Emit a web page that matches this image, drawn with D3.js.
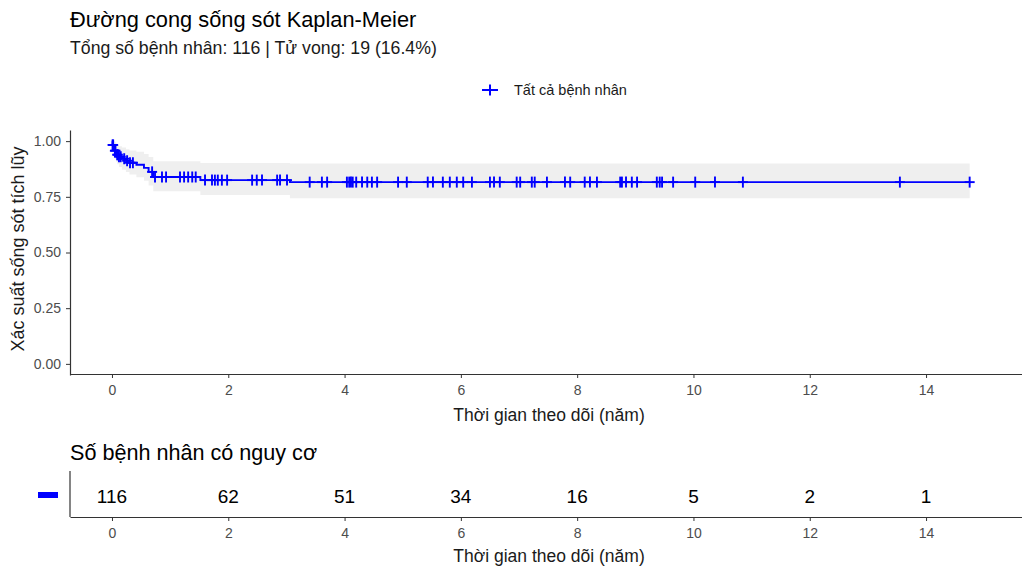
<!DOCTYPE html>
<html>
<head>
<meta charset="utf-8">
<script src="https://cdn.jsdelivr.net/npm/d3@7"></script>
<style>
  body { margin: 0; background: #fff; }
  svg { font-family: "Liberation Sans", Arial, sans-serif; }
</style>
</head>
<body>
<div id="plot"></div>
<script>
"use strict";

// KM step estimates
const stepTimes = [0, 0.01, 0.03, 0.05, 0.07, 0.09, 0.12, 0.17, 0.24, 0.30, 0.42, 0.55, 0.63, 0.71, 1.52, 3.06, 14.75];
const stepSurv  = [1, 0.983, 0.966, 0.957, 0.948, 0.939, 0.930, 0.921, 0.912, 0.903, 0.894, 0.880, 0.862, 0.839, 0.825, 0.816, 0.816];
const stepLower = [1, 0.958, 0.934, 0.920, 0.908, 0.896, 0.884, 0.872, 0.861, 0.850, 0.838, 0.822, 0.801, 0.775, 0.758, 0.744, 0.744];
const stepUpper = [1, 1.000, 0.999, 0.995, 0.989, 0.983, 0.977, 0.971, 0.964, 0.958, 0.952, 0.942, 0.929, 0.910, 0.902, 0.900, 0.900];

// censoring times (years)
const censorTimes = [0.01, 0.02, 0.05, 0.06, 0.09, 0.10, 0.12, 0.15, 0.21, 0.26, 0.31, 0.36,
  0.69, 0.74, 0.86, 0.93, 1.17, 1.24, 1.31, 1.38, 1.44, 1.60, 1.72, 1.77, 1.82, 1.89, 1.98,
  2.41, 2.49, 2.58, 2.84, 2.89, 3.01, 3.40, 3.61, 3.70,
  4.04, 4.08, 4.11, 4.14, 4.20, 4.30, 4.39, 4.47, 4.56, 4.92, 5.07, 5.43, 5.52,
  5.69, 5.81, 5.93, 6.04, 6.19, 6.50, 6.57, 6.67, 6.96, 7.02, 7.22, 7.27, 7.48, 7.79, 7.88,
  8.13, 8.22, 8.34, 8.74, 8.77, 8.84, 8.94, 9.03, 9.37, 9.42, 9.46, 9.65,
  10.03, 10.37, 10.85, 13.55, 14.75];

const riskTimes = [0, 2, 4, 6, 8, 10, 12, 14];
const riskCounts = [116, 62, 51, 34, 16, 5, 2, 1];
const yTicks = [0, 0.25, 0.5, 0.75, 1];

const W = 1022, H = 567;
const lineColor = "#0000FF";

const svg = d3.select("#plot").append("svg")
    .attr("width", W)
    .attr("height", H);

const x = d3.scaleLinear().domain([-0.722, 15.65]).range([70, 1022]);
const y = d3.scaleLinear().domain([-0.05, 1.05]).range([375, 130]);

// step lookup for censor marks
function survAt(t) {
    let i = d3.bisectRight(stepTimes, t) - 1;
    return stepSurv[Math.max(0, i)];
}

// titles
svg.append("text").attr("x", 70).attr("y", 27)
    .style("font-size", "21.8px").attr("fill", "#000")
    .text("Đường cong sống sót Kaplan-Meier");
svg.append("text").attr("x", 70).attr("y", 54)
    .style("font-size", "17.7px").attr("fill", "#1a1a1a")
    .text("Tổng số bệnh nhân: 116 | Tử vong: 19 (16.4%)");

// legend
const leg = svg.append("g").attr("transform", "translate(490,90)");
leg.append("line").attr("x1", -8).attr("x2", 8).attr("stroke", lineColor).attr("stroke-width", 2);
leg.append("line").attr("y1", -5.5).attr("y2", 5.5).attr("stroke", lineColor).attr("stroke-width", 2);
leg.append("text").attr("x", 24).attr("y", 5)
    .style("font-size", "14.5px").attr("fill", "#1a1a1a")
    .text("Tất cả bệnh nhân");

// confidence band
const band = stepTimes.map((t, i) => ({t: t, lo: stepLower[i], hi: stepUpper[i]}));
svg.append("path")
    .datum(band)
    .attr("fill", "#efefef")
    .attr("d", d3.area()
        .curve(d3.curveStepAfter)
        .x(d => x(d.t))
        .y0(d => y(d.lo))
        .y1(d => y(d.hi)));

// survival curve
const curve = stepTimes.map((t, i) => ({t: t, s: stepSurv[i]}));
svg.append("path")
    .datum(curve)
    .attr("fill", "none")
    .attr("stroke", lineColor)
    .attr("stroke-width", 1.9)
    .attr("d", d3.line().curve(d3.curveStepAfter).x(d => x(d.t)).y(d => y(d.s)));

// censor marks
const marks = svg.append("g");
censorTimes.forEach(t => {
    const cx = x(t), cy = y(survAt(t));
    marks.append("line").attr("x1", cx - 5).attr("x2", cx + 5).attr("y1", cy).attr("y2", cy)
        .attr("stroke", lineColor).attr("stroke-width", 1.9);
    marks.append("line").attr("x1", cx).attr("x2", cx).attr("y1", cy - 5.5).attr("y2", cy + 5.5)
        .attr("stroke", lineColor).attr("stroke-width", 1.9);
});

// axes of the main panel
function styleAxis(g) {
    g.selectAll(".domain").attr("stroke", "#333").attr("stroke-width", 1.2);
    g.selectAll(".tick line").attr("stroke", "#333");
    g.selectAll(".tick text").attr("fill", "#4d4d4d")
        .style("font-size", "14px").style("font-family", "'Liberation Sans', Arial, sans-serif");
}

const xAxis = d3.axisBottom(x).tickValues(riskTimes).tickSize(4).tickSizeOuter(0).tickPadding(7);
svg.append("g").attr("transform", "translate(0,374)").call(xAxis).call(styleAxis);

const yAxis = d3.axisLeft(y).tickValues(yTicks).tickFormat(d3.format(".2f")).tickSize(4).tickSizeOuter(0).tickPadding(5);
svg.append("g").attr("transform", "translate(70,0)").call(yAxis).call(styleAxis);

svg.append("text").attr("x", 549).attr("y", 421)
    .attr("text-anchor", "middle").style("font-size", "17.5px").attr("fill", "#1a1a1a")
    .text("Thời gian theo dõi (năm)");
svg.append("text")
    .attr("transform", "translate(24,249) rotate(-90)")
    .attr("text-anchor", "middle").style("font-size", "18px").attr("fill", "#1a1a1a")
    .text("Xác suất sống sót tích lũy");

// risk table
svg.append("text").attr("x", 70).attr("y", 460)
    .style("font-size", "21.6px").attr("fill", "#000")
    .text("Số bệnh nhân có nguy cơ");

const riskY = 496;
svg.append("g").selectAll("text")
    .data(riskCounts)
    .enter()
    .append("text")
    .attr("x", (d, i) => x(riskTimes[i]))
    .attr("y", riskY)
    .attr("dy", "0.35em")
    .attr("text-anchor", "middle")
    .style("font-size", "19px")
    .attr("fill", "#000")
    .text(d => d);

svg.append("rect").attr("x", 38).attr("y", 492).attr("width", 20).attr("height", 6).attr("fill", lineColor);

const xAxis2 = d3.axisBottom(x).tickValues(riskTimes).tickSize(4).tickSizeOuter(0).tickPadding(7);
svg.append("g").attr("transform", "translate(0,517)").call(xAxis2).call(styleAxis);
svg.append("line").attr("x1", 70).attr("x2", 70).attr("y1", 471).attr("y2", 517)
    .attr("stroke", "#333").attr("stroke-width", 1.2);

svg.append("text").attr("x", 549).attr("y", 562)
    .attr("text-anchor", "middle").style("font-size", "17.5px").attr("fill", "#1a1a1a")
    .text("Thời gian theo dõi (năm)");
</script>
</body>
</html>
